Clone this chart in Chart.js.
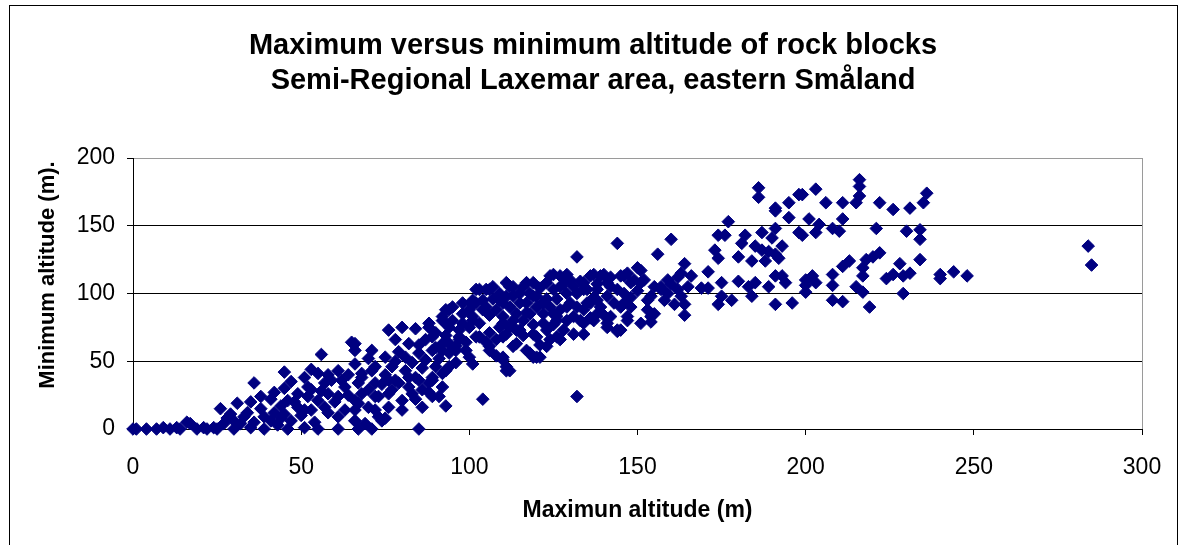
<!DOCTYPE html>
<html>
<head>
<meta charset="utf-8">
<script src="https://cdn.jsdelivr.net/npm/chart.js@4.4.0/dist/chart.umd.min.js"></script>
<style>
  body { margin: 0; background: #fff; }
  #wrap { width: 1186px; height: 545px; position: relative; }
</style>
</head>
<body>
<div id="wrap"><canvas id="chart"></canvas></div>
<script>
// maximum altitude (x) and minimum altitude (y) of each block
var maxAltitude = [
  65,66,56,45,36,51,55,61,64,68, 26,31,35,41,38,45,46,49,53,57,
  59,61,66,57,51,45,39,33,29,27, 24,21,17,16,14,11,9,7,4,1,
  35,39,43,47,51,55,61,66,67,53, 61,32,36,41,49,44,55,58,63,67,
  66,52,0,19,22,28,30,25,13,46,
  66,71,75,76,80,84,78,82,85,81, 88,90,93,95,92,94,97,99,100,94,
  96,92,89,87,94,92,89,92,93,86, 85,80,74,71,66,69,67,70,73,76,
  80,83,77,74,70,68,71,77,81,84, 86,89,98,101,102,105,107,111,109,104,
  101,102,106,109,106,110,111,104,
  76,79,82,85,75,72,72,72,88,89, 91,93,88,92,94,93,92,94,96,97,
  101,98,100,102,103,106,105,101,103,106, 108,111,110,112,114,112,110,112,116,119,
  117,120,116,114,117,119,121,120,122,124, 125,124,127,130,129,126,126,128,131,132,
  134,136,139,141,138,135,134,137,141,144, 142,145,146,144,132,132,
  156,125,129,123,127,131,137,140,134,138, 142,151,149,155,153,155,151,147,144,141,
  138,136,133,134,129,125,122,119,117,113, 111,115,118,113,110,111,115,119,123,126,
  127,123,120,118,113,110,112,
  145,147,150,151,148,146,148,147,154,145,157,
  186,186,198,195,191,191,195,177,191,198, 187,182,176,174,160,190,193,181,185,173,
  180,174,189,191,192,187,188,184,164,171, 166,163,159,157,154,159,162,165,169,171,
  175,175,174,178,180,183,185,189,184,191, 193,194,191,196,200,164,161,164,154,
  216,216,203,216,215,206,211,222,226,231, 235,236,199,201,204,211,208,210,203,199,
  221,230,234,234,222,220,218,234,228,213, 211,217,217,208,231,229,226,224,202,200,
  203,208,215,217,200,229,208,211,219,240, 240,244,248,284,285,
  42,44,48,50,52,54,56,58,60,47, 53,58,42,38,34,30,
  62,63,64,66,68,70,72,73,75,76, 78,78,79,82,83,84,85,86,87,88, 89,90,90,91,
  93,95,96,97,98,99,100,101,103,104, 105,106,107,108,108,109,110,
  113,114,115,116,117,118,119,120,121,121, 122,123,124,125,126,127,128,129,130,131,
  132,133,134,135,136,137,138,139,140,141, 142,143,144,146,148,150,152,153,158,160,162,163
];
var minAltitude = [
  64,58,55,42,34,38,41,43,40,41, 15,19,20,22,15,30,21,26,29,34,
  36,24,21,16,14,11,9,9,11,4, 1,1,4,5,0,0,1,0,0,0,
  1,0,3,6,1,0,0,6,0,14, 9,4,5,6,16,17,21,26,31,34,
  14,31,0,0,0,8,0,0,1,0,
  63,58,53,73,75,74,66,63,56,53, 75,71,88,90,80,75,66,58,53,63,
  58,58,58,51,46,41,38,31,17,16, 0,14,6,0,6,4,19,16,24,16,
  21,26,29,33,29,38,43,46,43,38, 29,24,93,95,103,103,105,108,95,88,
  80,68,71,75,61,51,43,22,
  36,34,38,36,8,14,24,34,34,36, 24,43,78,83,88,78,63,56,61,68,
  48,78,88,93,103,103,90,83,68,58, 66,46,68,75,73,90,93,105,105,108,
  93,98,80,63,58,53,53,68,78,90, 103,113,113,110,100,83,68,73,83,90,
  103,113,113,108,95,93,78,80,75,72, 83,90,113,137,127,24,
  129,114,114,108,105,105,114,114,108,103, 105,117,110,105,95,85,78,83,73,78,
  85,93,80,70,90,85,93,98,108,105, 98,93,85,80,83,70,73,70,73,80,
  66,61,53,56,61,53,43,
  113,115,119,108,108,93,90,80,83,73,103,
  178,171,173,167,163,161,156,153,148,145, 145,143,143,143,140,141,135,137,135,132,
  127,126,131,129,126,132,124,124,122,116, 113,115,110,105,98,100,103,105,104,104,
  108,98,92,95,109,105,108,105,98,113, 113,108,92,93,106,92,92,84,79,
  184,179,177,172,167,167,167,167,162,163, 167,174,173,155,151,155,148,146,145,143,
  148,146,147,140,130,127,125,125,122,124, 120,119,113,114,115,113,114,111,113,110,
  108,106,105,101,101,100,95,94,90,114, 111,116,113,135,121,
  12,8,20,10,24,5,28,12,20,35, 44,40,27,24,12,6,
  36,14,25,48,26,52,46,9,40,26, 50,36,57,31,49,22,62,45,66,27, 68,46,60,52,
  69,80,49,73,85,64,75,92,78,95, 64,84,96,54,88,100,78,
  98,85,100,69,86,100,77,90,62,104, 85,96,66,77,96,88,107,80,93,70,
  100,109,88,103,82,97,107,90,84,98, 112,93,103,100,97,102,110,88,95,107,112,98
];
var xTicks = [0, 50, 100, 150, 200, 250, 300];
var yTicks = [0, 50, 100, 150, 200];

var points = maxAltitude.map(function (v, i) { return {x: v, y: minAltitude[i]}; });

var framePlugin = {
  id: 'frame',
  beforeDraw: function (chart) {
    var c = chart.ctx;
    c.save();
    c.fillStyle = '#ffffff';
    c.fillRect(0, 0, chart.width, chart.height);
    c.strokeStyle = '#000000';
    c.lineWidth = 1;
    c.strokeRect(9.5, 5.5, 1168, 560);
    c.restore();
  },
  afterDraw: function (chart) {
    var c = chart.ctx;
    c.save();
    c.translate(48, 275);
    c.rotate(-Math.PI / 2);
    c.font = 'bold 22px "Liberation Sans", Arial, sans-serif';
    c.fillStyle = '#000000';
    c.textAlign = 'center';
    c.textBaseline = 'middle';
    c.fillText('Minimum altitude (m).', 0, 0);
    c.restore();
  }
};

new Chart(document.getElementById('chart'), {
  type: 'scatter',
  data: {
    datasets: [{
      data: points,
      pointStyle: 'rectRot',
      pointRadius: 6.3,
      pointBackgroundColor: '#000080',
      pointBorderColor: '#000080',
      pointBorderWidth: 1,
      clip: false
    }]
  },
  options: {
    responsive: true,
    maintainAspectRatio: false,
    animation: false,
    layout: { padding: 0 },
    plugins: {
      legend: { display: false },
      tooltip: { enabled: false },
      title: {
        display: true,
        text: ['Maximum versus minimum altitude of rock blocks', 'Semi-Regional Laxemar area, eastern Småland'],
        color: '#000',
        font: { family: '"Liberation Sans", Arial, sans-serif', size: 29, weight: 'bold', lineHeight: 1.2 },
        padding: { top: 29, bottom: 59.4 }
      }
    },
    scales: {
      x: {
        type: 'linear',
        min: 0,
        max: 300,
        afterBuildTicks: function (s) { s.ticks = xTicks.map(function (v) { return {value: v}; }); },
        afterFit: function (s) { s.height = 116; },
        ticks: {
          color: '#000',
          padding: 19,
          maxRotation: 0,
          font: { family: '"Liberation Sans", Arial, sans-serif', size: 23 }
        },
        grid: {
          color: function (ctx) { return ctx.tick && ctx.tick.value === 300 ? '#9a9a9a' : 'rgba(0,0,0,0)'; },
          tickColor: '#000',
          tickLength: 6
        },
        border: { color: '#000', width: 1 },
        title: {
          display: true,
          text: 'Maximun altitude (m)',
          color: '#000',
          font: { family: '"Liberation Sans", Arial, sans-serif', size: 23, weight: 'bold' },
          padding: { top: 0, bottom: 21 }
        }
      },
      y: {
        type: 'linear',
        min: 0,
        max: 200,
        afterBuildTicks: function (s) { s.ticks = yTicks.map(function (v) { return {value: v}; }); },
        afterFit: function (s) { s.width = 133; },
        ticks: {
          color: '#000',
          padding: 12,
          font: { family: '"Liberation Sans", Arial, sans-serif', size: 23 }
        },
        grid: {
          color: function (ctx) { return ctx.tick && ctx.tick.value === 200 ? '#9a9a9a' : '#000'; },
          tickColor: '#000',
          tickLength: 6
        },
        border: { color: '#000', width: 1 }
      },
      // empty right-hand margin so the title centres on the whole canvas
      yRight: {
        type: 'linear',
        position: 'right',
        min: 0,
        max: 200,
        afterFit: function (s) { s.width = 44; },
        ticks: { display: false },
        grid: { display: false },
        border: { display: false }
      }
    }
  },
  plugins: [framePlugin]
});
</script>
</body>
</html>
